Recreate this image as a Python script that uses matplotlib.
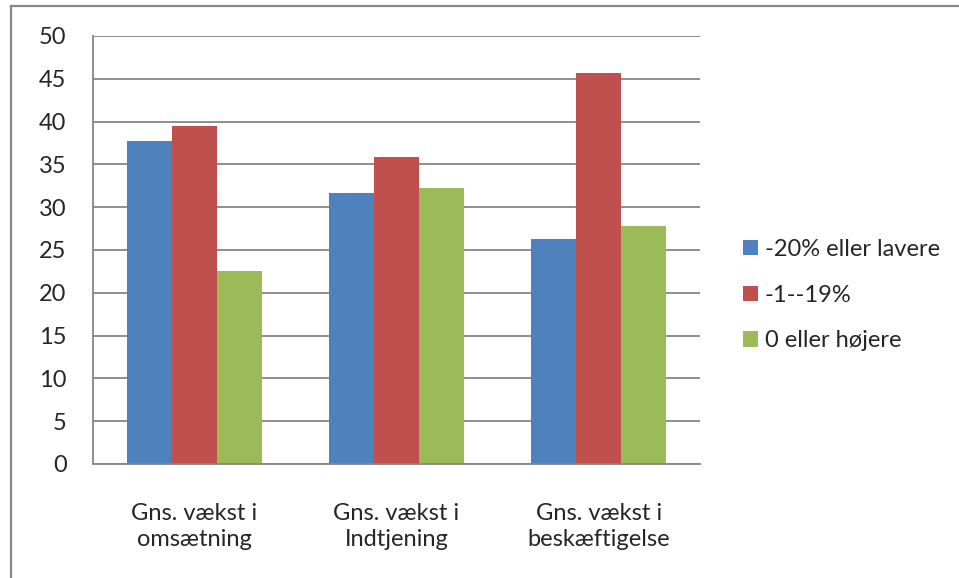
import matplotlib
matplotlib.use("Agg")
import matplotlib.pyplot as plt
import numpy as np
from matplotlib.lines import Line2D

categories = ["Gns. vækst i\nomsætning", "Gns. vækst i\nIndtjening", "Gns. vækst i\nbeskæftigelse"]
series_names = ["-20% eller lavere", "-1--19%", "0 eller højere"]
s_low = [37.7, 31.7, 26.3]
s_mid = [39.5, 35.9, 45.7]
s_high = [22.6, 32.3, 27.8]
yticks = [0, 5, 10, 15, 20, 25, 30, 35, 40, 45, 50]

colors = ["#4F81BD", "#C0504D", "#9BBB59"]
grid_col = "#868686"

plt.rcParams['font.family'] = ['Lato', 'DejaVu Sans']
FS = 17

W, H = 959, 578
fig = plt.figure(figsize=(W / 100, H / 100), dpi=100)
fig.patch.set_facecolor("white")

ax = fig.add_axes([93 / W, (H - 464) / H, (700 - 93) / W, (464 - 36) / H])

x = np.arange(len(categories))
bw = 0.222
handles = []
for i, (vals, name, c) in enumerate(zip([s_low, s_mid, s_high], series_names, colors)):
    b = ax.bar(x + (i - 1) * bw, vals, width=bw, color=c, label=name, zorder=3)
    handles.append(b)

ax.set_xlim(-0.5, len(categories) - 0.5)
ax.set_ylim(0, 50)
ax.set_yticks(yticks)
ax.set_yticklabels([str(t) for t in yticks], fontsize=FS, color="#262626")
ax.set_xticks(x)
ax.set_xticklabels(categories, fontsize=FS, color="#262626", linespacing=1.3)
ax.tick_params(axis="y", length=0, pad=19)
ax.tick_params(axis="x", length=0, pad=28)
ax.yaxis.grid(True, color=grid_col, linewidth=1.3, zorder=0)
ax.set_axisbelow(True)
for s in ["top", "right"]:
    ax.spines[s].set_visible(False)
for s in ["left", "bottom"]:
    ax.spines[s].set_color(grid_col)
    ax.spines[s].set_linewidth(1.3)
    ax.spines[s].set_zorder(4)

leg = fig.legend(handles=handles, labels=series_names, loc="center left",
                 bbox_to_anchor=(743 / W, 1 - 295 / H), frameon=False,
                 fontsize=FS, handlelength=0.62, handleheight=0.62,
                 handletextpad=0.3, labelspacing=1.05, borderpad=0, borderaxespad=0)
for t in leg.get_texts():
    t.set_color("#262626")

# outer chart frame (cropped at right and bottom)
fig.add_artist(Line2D([11 / W, 11 / W], [0, 1 - 6 / H], color="#878787", linewidth=1.6,
                      transform=fig.transFigure))
fig.add_artist(Line2D([11 / W, 1], [1 - 6 / H, 1 - 6 / H], color="#878787", linewidth=1.6,
                      transform=fig.transFigure))

fig.savefig("out.png", dpi=100, facecolor="white")
